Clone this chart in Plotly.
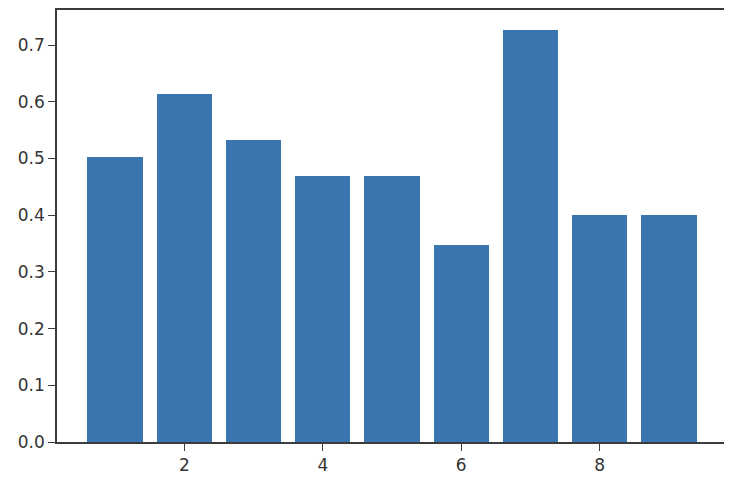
import plotly.graph_objects as go

positions = [1, 2, 3, 4, 5, 6, 7, 8, 9]
scores = [0.502, 0.614, 0.533, 0.470, 0.470, 0.347, 0.726, 0.400, 0.400]

x_ticks = [2, 4, 6, 8]
y_ticks = [0.0, 0.1, 0.2, 0.3, 0.4, 0.5, 0.6, 0.7]

fig = go.Figure(go.Bar(
    x=positions,
    y=scores,
    width=0.8,
    marker=dict(color="#3a75af", line=dict(width=0)),
))

axis_style = dict(
    showgrid=False,
    zeroline=False,
    showline=True,
    linecolor="#3c3c3c",
    linewidth=1.6,
    mirror=True,
    ticks="outside",
    ticklen=7,
    tickwidth=1.3,
    tickcolor="#3c3c3c",
    tickfont=dict(family="DejaVu Sans", size=17, color="#333333"),
)

# page body adds ~8px offset, so the figure is a bit smaller than the window
fig.update_layout(
    width=724,
    height=478,
    margin=dict(l=49, r=5, t=0, b=44),
    paper_bgcolor="white",
    plot_bgcolor="white",
    showlegend=False,
    bargap=0,
)
fig.update_xaxes(range=[0.16, 9.84], tickvals=x_ticks, **axis_style)
fig.update_yaxes(range=[0, 0.762], tickvals=y_ticks, tickformat=".1f", **axis_style)

fig.write_html("out.html")
